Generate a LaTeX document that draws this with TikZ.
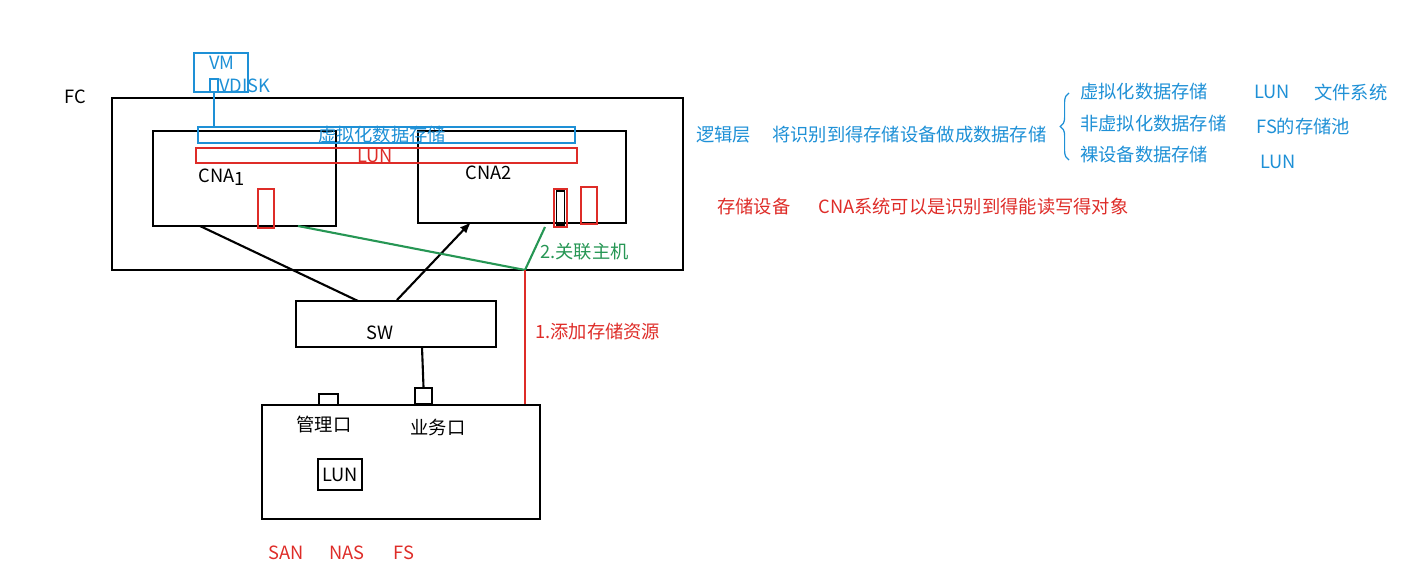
\documentclass[tikz,border=0pt]{standalone}
\usepackage{fontspec}
\setmainfont{Noto Sans CJK SC}
\usepackage{xcolor}
\usepackage{tikz}
\usetikzlibrary{arrows,decorations.pathreplacing}
\definecolor{lblue}{RGB}{30,144,214}
\definecolor{lred}{RGB}{222,44,40}
\definecolor{lgreen}{RGB}{38,150,84}
\begin{document}
\begin{tikzpicture}[x=0.02cm,y=-0.02cm,
  every node/.style={inner sep=0pt,font=\fontsize{10.4}{12}\selectfont},
  box/.style={draw,line width=1.1pt},
  bluebox/.style={draw=lblue,line width=1.1pt},
  redbox/.style={draw=lred,line width=1.1pt},
  txt/.style={anchor=west},
  wire/.style={line width=1.2pt}]
\useasboundingbox (0,0) rectangle (1403,581);
\node (fc) at (75,97) {FC};
\node[box,minimum width=11.42cm,minimum height=3.44cm] (fcbox) at (397.5,184) {};
\node[box,minimum width=3.66cm,minimum height=1.90cm] (cna1) at (244.5,178.5) {};
\node[box,minimum width=4.16cm,minimum height=1.84cm] (cna2) at (522,177) {};
\node[bluebox,minimum width=7.54cm,minimum height=0.32cm] (ds) at (386.5,135) {};
\node[text=lblue] (dslabel) at (382,135) {虚拟化数据存储};
\node[redbox,minimum width=7.62cm,minimum height=0.30cm] (lunbar) at (386.5,155.5) {};
\node[text=lred] (lunlabel) at (375,156) {LUN};
\node[bluebox,minimum width=1.08cm,minimum height=0.78cm] (vm) at (221,72.5) {};
\node[text=lblue] (vmlabel) at (222,63) {VM};
\node[bluebox,line width=0.9pt,minimum width=0.16cm,minimum height=0.26cm] (vdisk) at (214,85.5) {};
\node[text=lblue,txt] (vdisklabel) at (219,86) {VDISK};
\draw[lblue,wire] (vdisk.south) -- (vdisk.south |- ds.north);
\node (cna1label) at (222,177) {CNA\raisebox{-0.35ex}{1}};
\node (cna2label) at (489,173) {CNA2};
\node[redbox,minimum width=0.32cm,minimum height=0.78cm] (port1) at (266,208.5) {};
\node[redbox,minimum width=0.26cm,minimum height=0.76cm] (port2) at (560.5,208) {};
\node[box,line width=0.8pt,minimum width=0.16cm,minimum height=0.68cm] (port2in) at (560.5,208) {};
\node[redbox,minimum width=0.32cm,minimum height=0.74cm] (port3) at (589,205.5) {};
\node[box,minimum width=4.0cm,minimum height=0.92cm] (sw) at (396,324) {};
\node (swlabel) at (380,333) {SW};
\node[box,minimum width=5.56cm,minimum height=2.28cm] (stor) at (401,462) {};
\node[box,minimum width=0.38cm,minimum height=0.22cm] (mport) at (328.5,399.5) {};
\node[box,minimum width=0.34cm,minimum height=0.32cm] (sport) at (423.5,396) {};
\node (mportlabel) at (324,425) {管理口};
\node (sportlabel) at (438,428) {业务口};
\node[box,minimum width=0.88cm,minimum height=0.62cm] (lun) at (340,474.5) {LUN};
\node[text=lred] (san) at (286,553) {SAN};
\node[text=lred] (nas) at (347,553) {NAS};
\node[text=lred] (fs) at (404,553) {FS};
\coordinate (c1out) at (200,226);
\coordinate (sw1) at (358,301);
\coordinate (sw2) at (397,300);
\coordinate (c2in) at (471,222);
\coordinate (swout) at (422,347);
\coordinate (c1g) at (298,226);
\coordinate (c2g) at (545,227);
\coordinate (jn) at (525,270);
\draw[wire] (c1out) -- (sw1);
\draw[wire,-latex] (sw2) -- (c2in);
\draw[wire] (swout) -- (sport.north);
\draw[lgreen,wire] (c1g) -- (jn) -- (c2g);
\draw[lred,wire] (jn) -- (jn |- stor.north);
\node[text=lgreen,txt] (assoc) at (540,252) {2.关联主机};
\node[text=lred,txt] (addres) at (535,332) {1.添加存储资源};
\node[text=lblue,txt] (logic) at (696,135) {逻辑层};
\node[text=lblue,txt] (logicdesc) at (772,135) {将识别到得存储设备做成数据存储};
\draw[lblue,line width=0.7pt,decorate,decoration={brace,amplitude=5pt}] (1069,160) -- (1069,93);
\node[text=lblue,txt] (virt) at (1080,92) {虚拟化数据存储};
\node[text=lblue,txt] (nonvirt) at (1080,124) {非虚拟化数据存储};
\node[text=lblue,txt] (raw) at (1080,155) {裸设备数据存储};
\node[text=lblue,txt] (virtlun) at (1254,92) {LUN};
\node[text=lblue,txt] (virtfs) at (1314,92) {文件系统};
\node[text=lblue,txt] (pool) at (1256,127) {FS的存储池};
\node[text=lblue,txt] (rawlun) at (1260,162) {LUN};
\node[text=lred,txt] (dev) at (717,207) {存储设备};
\node[text=lred,txt] (devdesc) at (818,207) {CNA系统可以是识别到得能读写得对象};
\end{tikzpicture}
\end{document}
